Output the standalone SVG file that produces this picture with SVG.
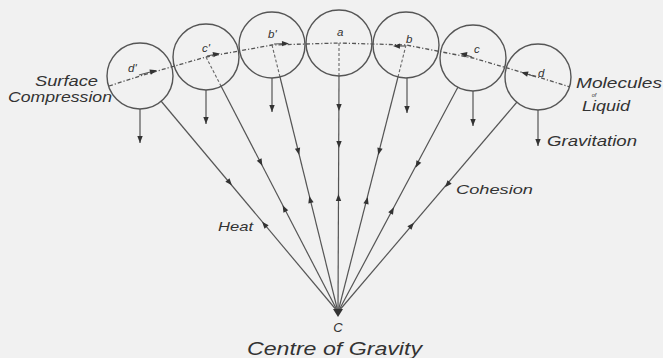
<svg xmlns="http://www.w3.org/2000/svg" xmlns:xlink="http://www.w3.org/1999/xlink" width="663" height="358" viewBox="0 0 663 358">
<style>
.mol{fill:none;stroke:#555;stroke-width:1.4}
.ln{fill:none;stroke:#555;stroke-width:1.2}
.surf{fill:none;stroke:#555;stroke-width:1.3;stroke-dasharray:4 2 1.2 2}
.rad{fill:none;stroke:#666;stroke-width:1.1;stroke-dasharray:3 2}
.ah{fill:#333}
text{font-family:"Liberation Sans","DejaVu Sans",sans-serif;font-style:italic;fill:#333}
.lab{font-size:11.5px}
.big{font-size:15px}
</style>
<defs>
<path id="ah" d="M3,0 L-4,-2.7 L-4,2.7 Z"/>
</defs>
<rect width="663" height="358" fill="#f1f1f1"/>

<g id="connectors">
<!-- surface dash-dot line -->
<polyline class="surf" points="109,86 140,76 206,57 272,45 339,43 406,45 473,58 538,77 570,87"/>
<!-- radial dashed lines -->
<line class="rad" x1="206" y1="57" x2="221" y2="86"/>
<line class="rad" x1="272" y1="45" x2="280" y2="77"/>
<line class="rad" x1="339" y1="43" x2="339" y2="76"/>
<line class="rad" x1="406" y1="45" x2="398" y2="77"/>
<!-- surface arrows -->
<g class="ln">
<line x1="139" y1="75" x2="154" y2="71"/>
<line x1="207" y1="56" x2="217" y2="54"/>
<line x1="274" y1="44" x2="286" y2="43.5"/>
<line x1="405" y1="46" x2="396" y2="46"/>
<line x1="472" y1="57" x2="463" y2="54"/>
<line x1="536" y1="77" x2="524" y2="73"/>
</g>
<g class="ah">
<use xlink:href="#ah" transform="translate(154,71) rotate(-16)"/>
<use xlink:href="#ah" transform="translate(217,54) rotate(-10)"/>
<use xlink:href="#ah" transform="translate(286,43.5) rotate(-2)"/>
<use xlink:href="#ah" transform="translate(396,46) rotate(182)"/>
<use xlink:href="#ah" transform="translate(463,54) rotate(191)"/>
<use xlink:href="#ah" transform="translate(524,73) rotate(196)"/>
</g>
<!-- lines to centre of gravity -->
<g class="ln">
<line x1="161" y1="101" x2="338" y2="312"/>
<line x1="221" y1="86" x2="338" y2="312"/>
<line x1="280" y1="77" x2="338" y2="312"/>
<line x1="339" y1="76" x2="338" y2="312"/>
<line x1="398" y1="77" x2="338" y2="312"/>
<line x1="458" y1="87" x2="338" y2="312"/>
<line x1="517" y1="102" x2="338" y2="312"/>
</g>
<g class="ah">
<use xlink:href="#ah" transform="translate(230,183) rotate(50)"/>
<use xlink:href="#ah" transform="translate(264,224) rotate(230)"/>
<use xlink:href="#ah" transform="translate(261,163) rotate(62.6)"/>
<use xlink:href="#ah" transform="translate(284,208) rotate(242.6)"/>
<use xlink:href="#ah" transform="translate(298.5,152) rotate(76)"/>
<use xlink:href="#ah" transform="translate(310,199) rotate(256)"/>
<use xlink:href="#ah" transform="translate(339,108) rotate(90)"/>
<use xlink:href="#ah" transform="translate(339,145) rotate(90)"/>
<use xlink:href="#ah" transform="translate(338.5,197) rotate(270)"/>
<use xlink:href="#ah" transform="translate(379,152) rotate(104.3)"/>
<use xlink:href="#ah" transform="translate(367,200) rotate(284.3)"/>
<use xlink:href="#ah" transform="translate(417,165) rotate(118)"/>
<use xlink:href="#ah" transform="translate(392.5,210) rotate(298)"/>
<use xlink:href="#ah" transform="translate(447,185) rotate(130.4)"/>
<use xlink:href="#ah" transform="translate(412,225) rotate(310.4)"/>
</g>
<!-- gravity arrows -->
<g class="ln">
<line x1="140" y1="109" x2="140" y2="143"/>
<line x1="206" y1="90" x2="206" y2="124"/>
<line x1="272" y1="78" x2="272" y2="112"/>
<line x1="407" y1="78" x2="407" y2="113"/>
<line x1="473" y1="91" x2="473" y2="126"/>
<line x1="538" y1="110" x2="538" y2="146"/>
</g>
<g class="ah">
<use xlink:href="#ah" transform="translate(140,140) rotate(90)"/>
<use xlink:href="#ah" transform="translate(206,121) rotate(90)"/>
<use xlink:href="#ah" transform="translate(272,109) rotate(90)"/>
<use xlink:href="#ah" transform="translate(407,110) rotate(90)"/>
<use xlink:href="#ah" transform="translate(473,123) rotate(90)"/>
<use xlink:href="#ah" transform="translate(538,143) rotate(90)"/>
</g>
</g>

<g id="mol-d1"><circle class="mol" cx="140" cy="76" r="33"/><text class="lab" x="128" y="72">d'</text></g>
<g id="mol-c1"><circle class="mol" cx="206" cy="57" r="33"/><text class="lab" x="202" y="52">c'</text></g>
<g id="mol-b1"><circle class="mol" cx="272" cy="45" r="33"/><text class="lab" x="268" y="38">b'</text></g>
<g id="mol-a"><circle class="mol" cx="339" cy="43" r="33"/><text class="lab" x="337" y="36">a</text></g>
<g id="mol-b"><circle class="mol" cx="406" cy="45" r="33"/><text class="lab" x="406" y="43">b</text></g>
<g id="mol-c"><circle class="mol" cx="473" cy="58" r="33"/><text class="lab" x="474" y="53">c</text></g>
<g id="mol-d"><circle class="mol" cx="538" cy="77" r="33"/><text class="lab" x="538" y="77">d</text></g>

<g id="centre">
<polygon class="ah" points="333,309 343,309 338,317"/>
<text x="338" y="332" font-size="13" text-anchor="middle">C</text>
<text x="247" y="355" font-size="18" textLength="175" lengthAdjust="spacingAndGlyphs">Centre of Gravity</text>
</g>

<g id="labels">
<text class="big" x="35" y="86" textLength="63" lengthAdjust="spacingAndGlyphs">Surface</text>
<text class="big" x="8" y="102" textLength="104" lengthAdjust="spacingAndGlyphs">Compression</text>
<text x="576" y="88" font-size="14" textLength="86" lengthAdjust="spacingAndGlyphs">Molecules</text>
<text x="594" y="96.5" font-size="5.5" text-anchor="middle">of</text>
<text x="582" y="111" font-size="14" textLength="48" lengthAdjust="spacingAndGlyphs">Liquid</text>
<text class="big" x="547" y="146" textLength="90" lengthAdjust="spacingAndGlyphs">Gravitation</text>
<text x="456" y="194" font-size="13" textLength="77" lengthAdjust="spacingAndGlyphs">Cohesion</text>
<text x="218" y="231" font-size="13" textLength="35" lengthAdjust="spacingAndGlyphs">Heat</text>
</g>
</svg>
